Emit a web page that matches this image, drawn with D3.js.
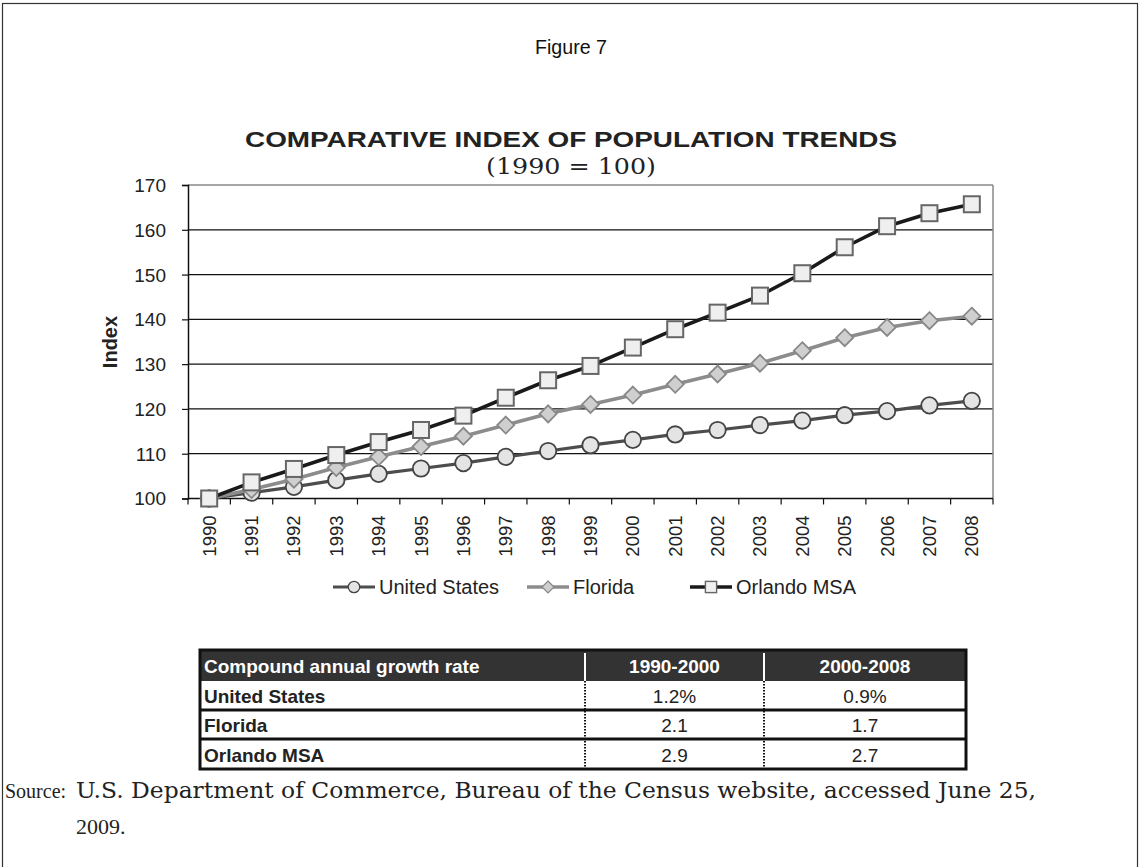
<!DOCTYPE html>
<html>
<head>
<meta charset="utf-8">
<script src="https://cdn.jsdelivr.net/npm/d3@7/dist/d3.min.js"></script>
<style>
  html, body { margin: 0; padding: 0; background: #fff; }
  svg { display: block; }
</style>
</head>
<body>
<svg id="chart" width="1141" height="867"></svg>
<script>
// ---- Data ----
const years = ["1990","1991","1992","1993","1994","1995","1996","1997","1998","1999",
               "2000","2001","2002","2003","2004","2005","2006","2007","2008"];
const unitedStates = [100,101.3,102.6,104.1,105.5,106.7,107.9,109.3,110.6,111.9,
                      113.1,114.3,115.3,116.4,117.4,118.6,119.5,120.8,121.8];
const florida      = [100,102.0,104.3,106.9,109.3,111.6,113.9,116.4,118.9,121.0,
                      123.1,125.5,127.8,130.2,133.0,135.9,138.2,139.7,140.7];
const orlando      = [100,103.6,106.6,109.7,112.6,115.3,118.5,122.5,126.4,129.6,
                      133.7,137.8,141.5,145.3,150.3,156.1,160.8,163.7,165.7];
const seriesNames  = ["United States","Florida","Orlando MSA"];
const yTicks       = [100,110,120,130,140,150,160,170];

const tableHeader  = ["Compound annual growth rate","1990-2000","2000-2008"];
const tableRows    = ["United States","Florida","Orlando MSA"];
const rate9000     = ["1.2%","2.1","2.9"];
const rate0008     = ["0.9%","1.7","2.7"];

(function(){
const svg = d3.select("#chart");
const SANS = "'Liberation Sans', Arial, sans-serif";
const SERIF = "'DejaVu Serif', 'Liberation Serif', serif";
const SERIF2 = "'Liberation Serif', serif";

// outer frame
svg.append("rect").attr("x",2.5).attr("y",3.5).attr("width",1135).attr("height",870)
  .attr("fill","none").attr("stroke","#333").attr("stroke-width",1.2);

// titles
svg.append("text").attr("x",571).attr("y",54).attr("text-anchor","middle")
  .attr("font-family",SANS).attr("font-size",21).attr("fill","#111")
  .attr("textLength",72).attr("lengthAdjust","spacingAndGlyphs").text("Figure 7");
svg.append("text").attr("x",571).attr("y",147).attr("text-anchor","middle")
  .attr("font-family",SANS).attr("font-size",22).attr("font-weight","bold").attr("fill","#222")
  .attr("textLength",652).attr("lengthAdjust","spacingAndGlyphs")
  .text("COMPARATIVE INDEX OF POPULATION TRENDS");
svg.append("text").attr("x",571).attr("y",174).attr("text-anchor","middle")
  .attr("font-family",SERIF).attr("font-size",22).attr("fill","#222")
  .attr("textLength",170).attr("lengthAdjust","spacingAndGlyphs").text("(1990 = 100)");

// scales
const pL = 188, pR = 993, pT = 185, pB = 498.5;
const x = d3.scaleBand().domain(years).range([pL,pR]).padding(0);
const cx = d => x(d) + x.bandwidth()/2;
const y = d3.scaleLinear().domain([100,170]).range([pB, pT]);

// gridlines
svg.append("g").selectAll("line").data(yTicks.filter(t => t>100 && t<170)).join("line")
  .attr("x1",pL).attr("x2",pR).attr("y1",d=>y(d)).attr("y2",d=>y(d))
  .attr("stroke","#111").attr("stroke-width",1.2);
svg.append("line").attr("x1",pL).attr("x2",pR).attr("y1",y(170)).attr("y2",y(170))
  .attr("stroke","#888").attr("stroke-width",1.5);
svg.append("line").attr("x1",pR).attr("x2",pR).attr("y1",y(170)).attr("y2",pB)
  .attr("stroke","#888").attr("stroke-width",1.5);

// y axis
const yAxis = svg.append("g").attr("transform",`translate(${pL},0)`)
  .call(d3.axisLeft(y).tickValues(yTicks).tickSize(6).tickPadding(6).tickFormat(d3.format("d")));
yAxis.select(".domain").attr("stroke","#111").attr("stroke-width",1.5);
yAxis.selectAll(".tick line").attr("stroke","#111").attr("stroke-width",1.2);
yAxis.selectAll("text").attr("font-family",SANS).attr("font-size",19).attr("fill","#222")
  .attr("x",-22).attr("dy","0.34em");

// x axis (ticks at band boundaries)
const xg = svg.append("g");
xg.append("line").attr("x1",pL).attr("x2",pR).attr("y1",pB).attr("y2",pB)
  .attr("stroke","#111").attr("stroke-width",1.5);
const bounds = years.map(d => x(d)).concat([pR]);
xg.selectAll("line.tk").data(bounds).join("line").attr("class","tk")
  .attr("x1",d=>d).attr("x2",d=>d).attr("y1",pB).attr("y2",pB+6)
  .attr("stroke","#111").attr("stroke-width",1.2);
xg.selectAll("text").data(years).join("text")
  .attr("transform",d=>`translate(${cx(d)+6.5},${pB+17}) rotate(-90)`)
  .attr("text-anchor","end").attr("font-family",SANS).attr("font-size",18.5).attr("fill","#222")
  .text(d=>d);

// y label
svg.append("text").attr("transform","translate(117,342) rotate(-90)")
  .attr("text-anchor","middle").attr("font-family",SANS).attr("font-size",20)
  .attr("font-weight","bold").attr("fill","#222").text("Index");

// series
const line = d3.line().x((d,i)=>cx(years[i])).y(d=>y(d));
const styles = [
  {data: unitedStates, stroke:"#4d4d4d", width:3.2, marker:"circle", fill:"#e4e4e4", mstroke:"#444"},
  {data: florida, stroke:"#8c8c8c", width:3.6, marker:"diamond", fill:"#cfcfcf", mstroke:"#888"},
  {data: orlando, stroke:"#1a1a1a", width:3.6, marker:"square", fill:"#efefef", mstroke:"#666"}
];
function drawMarker(g, type, px, py, fill, stroke) {
  if (type === "circle") {
    g.append("circle").attr("cx",px).attr("cy",py).attr("r",8.2)
      .attr("fill",fill).attr("stroke",stroke).attr("stroke-width",1.8);
  } else if (type === "diamond") {
    const s = 8.5;
    g.append("path").attr("d",`M${px},${py-s}L${px+s},${py}L${px},${py+s}L${px-s},${py}Z`)
      .attr("fill",fill).attr("stroke",stroke).attr("stroke-width",1.8);
  } else {
    g.append("rect").attr("x",px-8).attr("y",py-8).attr("width",16).attr("height",16)
      .attr("fill",fill).attr("stroke",stroke).attr("stroke-width",2);
  }
}
styles.forEach(s => {
  const g = svg.append("g");
  g.append("path").datum(s.data).attr("d",line).attr("fill","none")
    .attr("stroke",s.stroke).attr("stroke-width",s.width).attr("stroke-linejoin","round");
  s.data.forEach((v,i) => drawMarker(g, s.marker, cx(years[i]), y(v), s.fill, s.mstroke));
});

// legend
const legendX = [333, 527, 690];
seriesNames.forEach((name,i) => {
  const s = styles[i];
  const g = svg.append("g");
  const lx = legendX[i], ly = 587;
  g.append("line").attr("x1",lx).attr("x2",lx+42).attr("y1",ly).attr("y2",ly)
    .attr("stroke",s.stroke).attr("stroke-width",s.width);
  const mk = g.append("g").attr("transform",`translate(${lx+21},${ly}) scale(0.7) translate(${-(lx+21)},${-ly})`);
  drawMarker(mk, s.marker, lx+21, ly, s.fill, s.mstroke);
  g.append("text").attr("x",lx+46).attr("y",ly+7).attr("font-family",SANS).attr("font-size",20)
    .attr("fill","#222").text(name);
});

// table
const tL = 200, tR = 966, tTop = 650, hdrB = 681;
const rowB = [710, 739, 769];
const c1 = 585, c2 = 764;
const tb = svg.append("g");
tb.append("rect").attr("x",tL).attr("y",tTop).attr("width",tR-tL).attr("height",hdrB-tTop).attr("fill","#333");
tb.append("line").attr("x1",c1).attr("x2",c1).attr("y1",tTop+3).attr("y2",hdrB).attr("stroke","#fff").attr("stroke-width",2);
tb.append("line").attr("x1",c2).attr("x2",c2).attr("y1",tTop+3).attr("y2",hdrB).attr("stroke","#fff").attr("stroke-width",2);
tb.append("rect").attr("x",tL).attr("y",tTop).attr("width",tR-tL).attr("height",rowB[2]-tTop)
  .attr("fill","none").attr("stroke","#111").attr("stroke-width",3);
rowB.slice(0,2).forEach(yy => tb.append("line").attr("x1",tL).attr("x2",tR).attr("y1",yy).attr("y2",yy)
  .attr("stroke","#111").attr("stroke-width",3));
[c1,c2].forEach(cc => tb.append("line").attr("x1",cc).attr("x2",cc).attr("y1",hdrB).attr("y2",rowB[2])
  .attr("stroke","#111").attr("stroke-width",2).attr("stroke-dasharray","1.5,1.5"));
const colMid = [(c1+c2)/2, (c2+tR)/2];
tb.append("text").attr("x",tL+4).attr("y",hdrB-8).attr("font-family",SANS).attr("font-size",19)
  .attr("font-weight","bold").attr("fill","#fff").text(tableHeader[0]);
tb.append("text").attr("x",colMid[0]).attr("y",hdrB-8).attr("text-anchor","middle").attr("font-family",SANS)
  .attr("font-size",19).attr("font-weight","bold").attr("fill","#fff").text(tableHeader[1]);
tb.append("text").attr("x",colMid[1]).attr("y",hdrB-8).attr("text-anchor","middle").attr("font-family",SANS)
  .attr("font-size",19).attr("font-weight","bold").attr("fill","#fff").text(tableHeader[2]);
tableRows.forEach((r,i) => {
  const by = rowB[i] - 7;
  tb.append("text").attr("x",tL+4).attr("y",by).attr("font-family",SANS).attr("font-size",19)
    .attr("font-weight","bold").attr("fill","#222").text(r);
  tb.append("text").attr("x",colMid[0]).attr("y",by).attr("text-anchor","middle").attr("font-family",SANS)
    .attr("font-size",19).attr("fill","#222").text(rate9000[i]);
  tb.append("text").attr("x",colMid[1]).attr("y",by).attr("text-anchor","middle").attr("font-family",SANS)
    .attr("font-size",19).attr("fill","#222").text(rate0008[i]);
});

// source
svg.append("text").attr("x",5).attr("y",798).attr("font-family",SERIF2).attr("font-size",20).attr("fill","#222")
  .text("Source:");
svg.append("text").attr("x",76).attr("y",798).attr("font-family",SERIF).attr("font-size",22).attr("fill","#222")
  .attr("textLength",960).attr("lengthAdjust","spacingAndGlyphs")
  .text("U.S. Department of Commerce, Bureau of the Census website, accessed June 25,");
svg.append("text").attr("x",76).attr("y",834).attr("font-family",SERIF2).attr("font-size",22).attr("fill","#222")
  .text("2009.");
})();
</script>
</body>
</html>
